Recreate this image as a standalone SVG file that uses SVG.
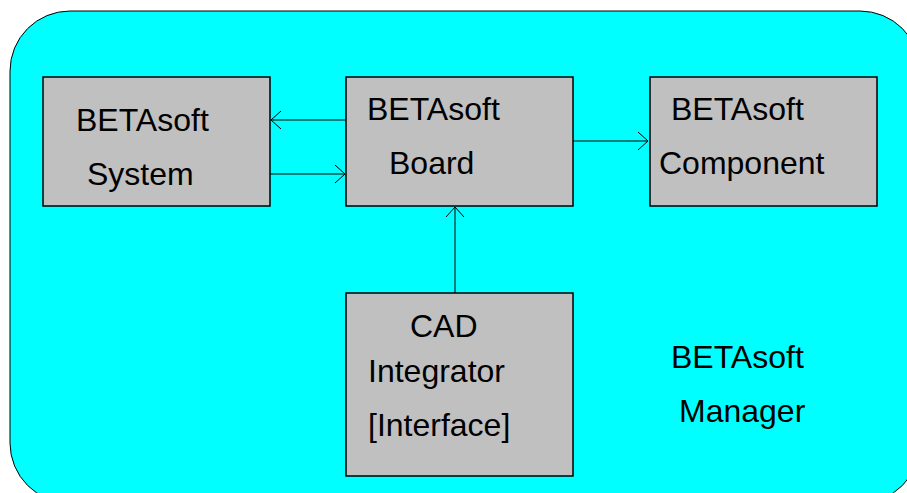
<svg xmlns="http://www.w3.org/2000/svg" width="907" height="493" viewBox="0 0 907 493">
<style>
.node rect{fill:#c0c0c0;stroke:#000;stroke-width:1.5}
text{font-family:"Liberation Sans",Arial,sans-serif;font-size:32px;fill:#000}
.conn line{stroke:#000;stroke-width:1}
</style>
<defs>
<marker id="arr" viewBox="0 0 12 20" refX="11" refY="10" markerWidth="12" markerHeight="20" markerUnits="userSpaceOnUse" orient="auto">
<path d="M1,1 L11,10 L1,19" fill="none" stroke="#000" stroke-width="1"/>
</marker>
</defs>
<rect width="907" height="493" fill="#fff"/>
<g id="manager">
<rect x="10" y="11" width="910" height="492" rx="60" ry="60" fill="#00ffff" stroke="#000" stroke-width="1"/>
<text x="671" y="368">BETAsoft</text>
<text x="679" y="422">Manager</text>
</g>
<g class="conn" id="connectors">
<line x1="346" y1="120" x2="271" y2="120" marker-end="url(#arr)"/>
<line x1="270" y1="174" x2="345" y2="174" marker-end="url(#arr)"/>
<line x1="573" y1="141" x2="648" y2="141" marker-end="url(#arr)"/>
<line x1="455" y1="293" x2="455" y2="207" marker-end="url(#arr)"/>
</g>
<g class="node" id="system">
<rect x="43" y="77" width="227" height="129"/>
<text x="76" y="131">BETAsoft</text>
<text x="87" y="185">System</text>
</g>
<g class="node" id="board">
<rect x="346" y="77" width="227" height="129"/>
<text x="367" y="120">BETAsoft</text>
<text x="389" y="174">Board</text>
</g>
<g class="node" id="component">
<rect x="650" y="77" width="227" height="129"/>
<text x="671" y="120">BETAsoft</text>
<text x="659" y="174">Component</text>
</g>
<g class="node" id="cad">
<rect x="346" y="293" width="227" height="183"/>
<text x="410" y="337">CAD</text>
<text x="368" y="382">Integrator</text>
<text x="368" y="436">[Interface]</text>
</g>
</svg>
